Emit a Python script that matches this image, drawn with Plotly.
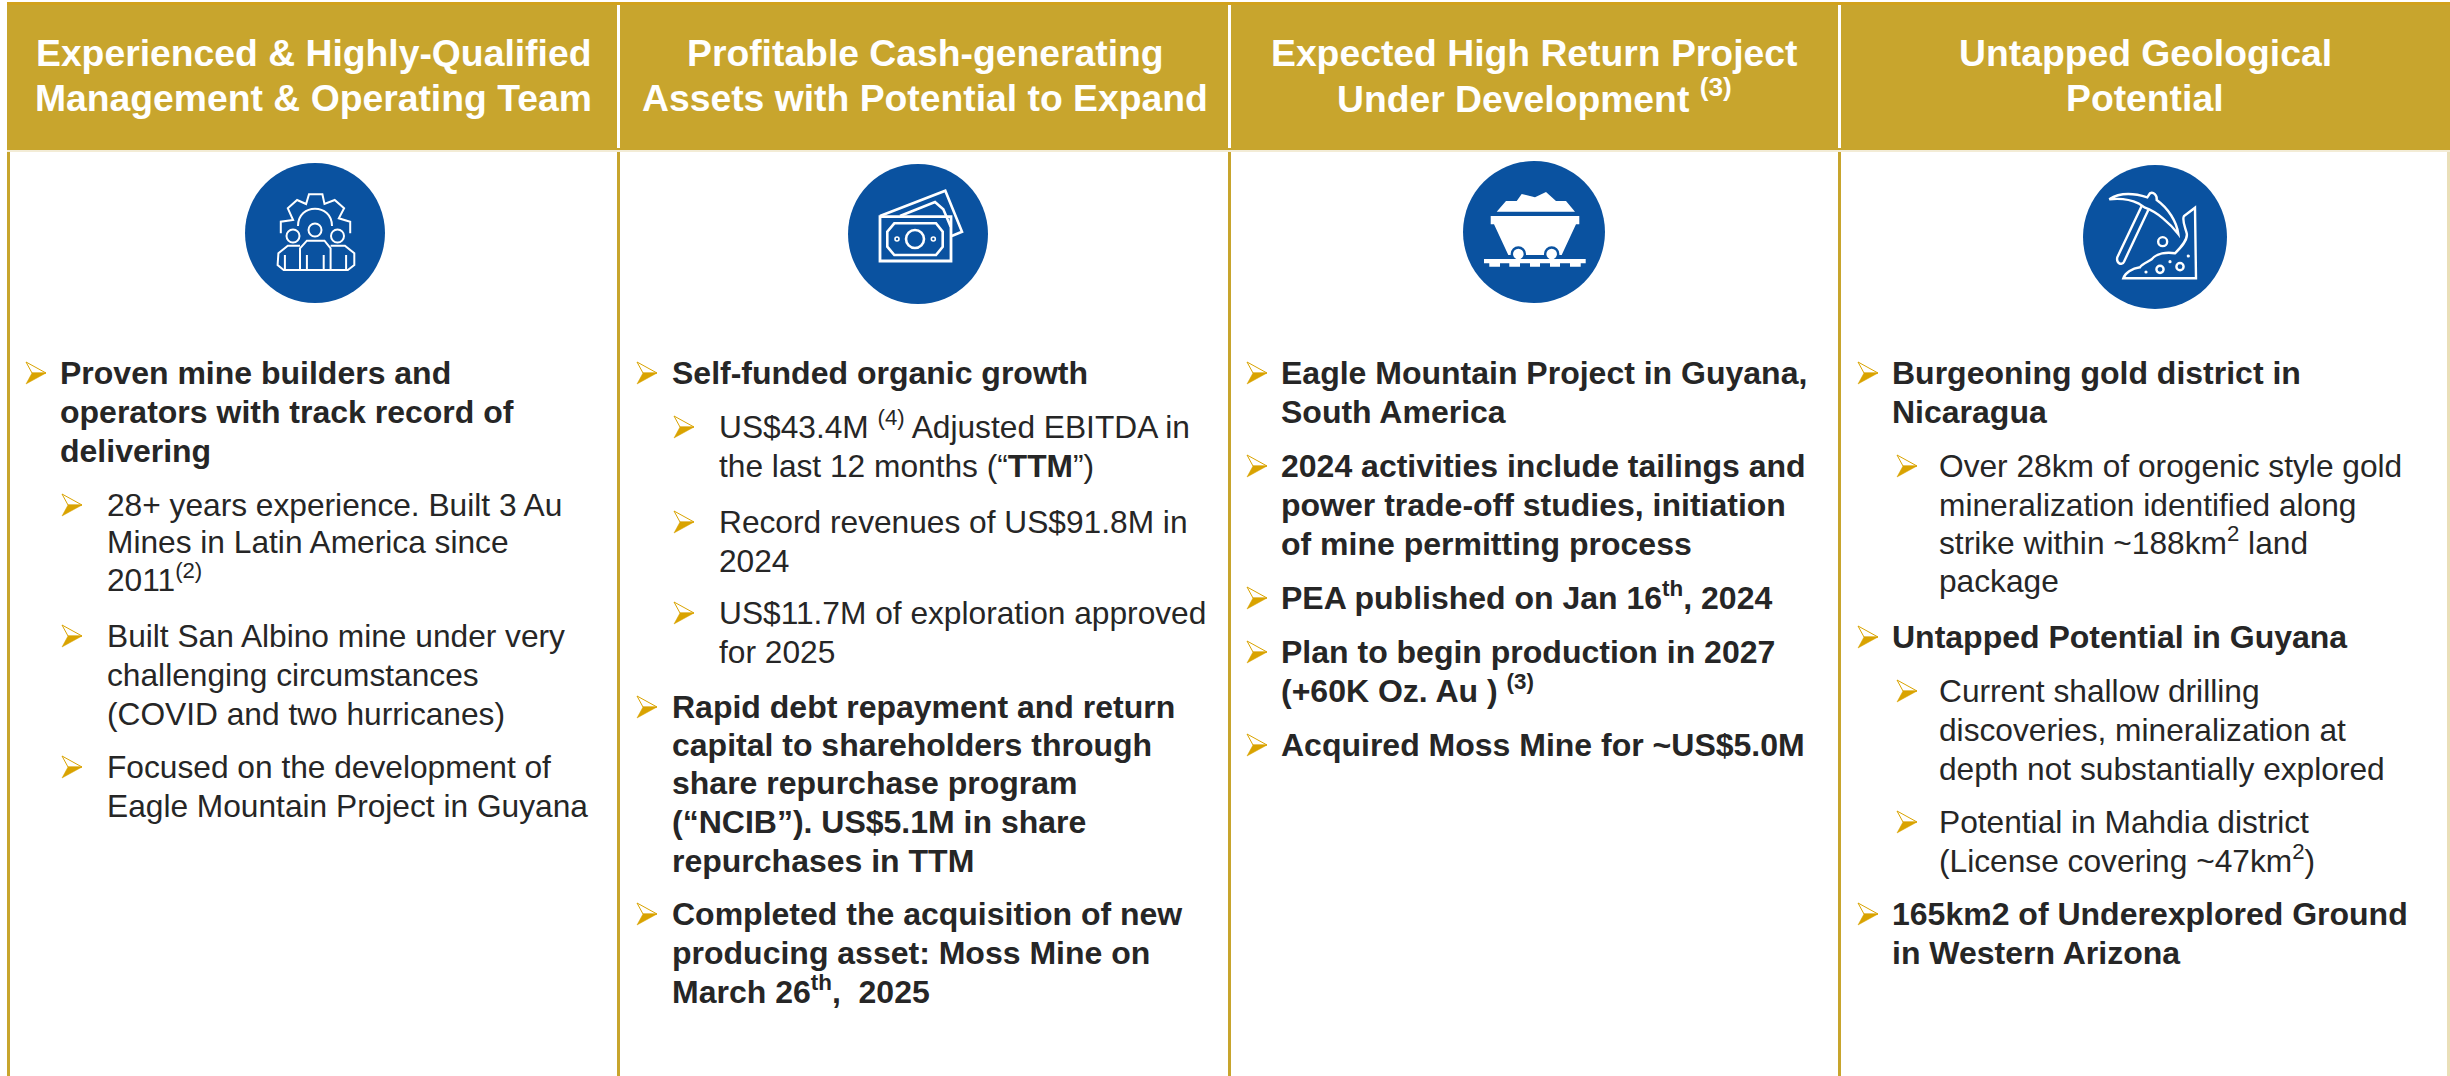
import plotly.graph_objects as go

W, H = 2450, 1076
FONT = "Liberation Sans"
INK = "#262626"
GOLD = "#C8A52D"
BLUE = "#0A52A0"
BULLET = "#D9A300"

headers = [
    ["<b>Experienced &amp; Highly-Qualified</b>", "<b>Management &amp; Operating Team</b>"],
    ["<b>Profitable Cash-generating</b>", "<b>Assets with Potential to Expand</b>"],
    ["<b>Expected High Return Project</b>", "<b>Under Development <sup>(3)</sup></b>"],
    ["<b>Untapped Geological</b>", "<b>Potential</b>"],
]

# text of each column, one entry per rendered line
col1 = ["<b>Proven mine builders and</b>", "<b>operators with track record of</b>", "<b>delivering</b>",
        "28+ years experience. Built 3 Au", "Mines in Latin America since", "2011<sup>(2)</sup>",
        "Built San Albino mine under very", "challenging circumstances", "(COVID and two hurricanes)",
        "Focused on the development of", "Eagle Mountain Project in Guyana"]
col2 = ["<b>Self-funded organic growth</b>",
        "US$43.4M <sup>(4)</sup> Adjusted EBITDA in", "the last 12 months (“<b>TTM</b>”)",
        "Record revenues of US$91.8M in", "2024",
        "US$11.7M of exploration approved", "for 2025",
        "<b>Rapid debt repayment and return</b>", "<b>capital to shareholders through</b>",
        "<b>share repurchase program</b>", "<b>(“NCIB”). US$5.1M in share</b>", "<b>repurchases in TTM</b>",
        "<b>Completed the acquisition of new</b>", "<b>producing asset: Moss Mine on</b>",
        "<b>March 26<sup>th</sup>,  2025</b>"]
col3 = ["<b>Eagle Mountain Project in Guyana,</b>", "<b>South America</b>",
        "<b>2024 activities include tailings and</b>", "<b>power trade-off studies, initiation</b>",
        "<b>of mine permitting process</b>",
        "<b>PEA published on Jan 16<sup>th</sup>, 2024</b>",
        "<b>Plan to begin production in 2027</b>", "<b>(+60K Oz. Au ) <sup>(3)</sup></b>",
        "<b>Acquired Moss Mine for ~US$5.0M</b>"]
col4 = ["<b>Burgeoning gold district in</b>", "<b>Nicaragua</b>",
        "Over 28km of orogenic style gold", "mineralization identified along",
        "strike within ~188km<sup>2</sup> land", "package",
        "<b>Untapped Potential in Guyana</b>",
        "Current shallow drilling", "discoveries, mineralization at", "depth not substantially explored",
        "Potential in Mahdia district", "(License covering ~47km<sup>2</sup>)",
        "<b>165km2 of Underexplored Ground</b>", "<b>in Western Arizona</b>"]
columns = [col1, col2, col3, col4]

# layout (pixels): line centres, indent level (0 bold / 1 sub) and which lines carry a bullet
y1 = [373, 412, 451, 505, 542, 580, 636, 675, 714, 767, 806]
y2 = [373, 427, 466, 522, 561, 613, 652, 707, 745, 783, 822, 861, 914, 953, 992]
y3 = [373, 412, 466, 505, 544, 598, 652, 691, 745]
y4 = [373, 412, 466, 505, 543, 581, 637, 691, 730, 769, 822, 861, 914, 953]
col_y = [y1, y2, y3, y4]
lvl = [[0,0,0,1,1,1,1,1,1,1,1],
       [0,1,1,1,1,1,1,0,0,0,0,0,0,0,0],
       [0]*9,
       [0,0,1,1,1,1,0,1,1,1,1,1,0,0]]
bul = [[1,0,0,1,0,0,1,0,0,1,0],
       [1,1,0,1,0,1,0,1,0,0,0,0,1,0,0],
       [1,0,1,0,0,1,1,0,1],
       [1,0,1,0,0,0,1,1,0,0,1,0,1,0]]
text_x = [(57.5,104.5),(669.5,716.5),(1278.5,1278.5),(1889.5,1936.5)]
bullet_x = [(26,62),(637,674),(1247,1247),(1858,1897)]
head_x = [313,925,1534,2145]
head_y = [53,98]
vlines = [618.5,1229.5,1839.5]
circles = [(315,233,70),(918,234,70),(1534,232,71),(2155,237,72)]

shapes, ann = [], []

def rect(x0,y0,x1,y1,fill,layer="below"):
    shapes.append(dict(type="rect",x0=x0,y0=y0,x1=x1,y1=y1,fillcolor=fill,line=dict(width=0),layer=layer))
def path(d,fill=None,color="white",width=2.4):
    s=dict(type="path",path=d,layer="above",line=dict(color=color,width=width))
    if fill: s["fillcolor"]=fill
    if width==0: s["line"]=dict(width=0)
    shapes.append(s)
def circ(cx,cy,r,fill=None,color="white",width=2.4):
    s=dict(type="circle",x0=cx-r,x1=cx+r,y0=cy-r,y1=cy+r,layer="above",line=dict(color=color,width=width))
    if fill: s["fillcolor"]=fill
    if width==0: s["line"]=dict(width=0)
    shapes.append(s)
def poly(pts,close=True):
    return "M"+" L".join(f"{x:.1f},{y:.1f}" for x,y in pts)+(" Z" if close else "")

# frame
rect(7,2,W,150,GOLD)
rect(7,2,W,5,"#D2A21C")
rect(7,150,W,152,"#F3ECD6")
rect(7,152,10,H,GOLD)
rect(2447,152,2450,H,"#EADFB8")
for x in vlines:
    rect(x-1.5,152,x+1.5,H,GOLD)
    rect(x-1.5,5,x+1.5,148,"white")

# circles
for cx,cy,r in circles:
    circ(cx,cy,r,fill=BLUE,width=0)

# icon 1: gear and people
def z1(p): return [(a/2.45,b/3) for a,b in p]
gear=[(688,700),(688,665),(718,660),(705,625),(728,600),(750,612),(757,583),(790,583),(795,612),(820,600),(843,625),(830,655),(858,665),(858,700)]
path(poly(z1(gear),False),width=2)
path("M298,226 C298,203 332,203 332,226",width=2)
for cx,cy in [(293,236),(315,230),(337.5,236)]:
    circ(cx,cy,6.5,width=2)
path(poly(z1([(735,810),(735,745),(752,722),(795,722),(810,745),(810,810)])),width=2)
path(poly(z1([(735,737),(705,737),(682,760),(680,795),(695,810),(735,810)]),False),width=2)
path(poly(z1([(810,737),(845,737),(868,760),(868,795),(852,810),(810,810)]),False),width=2)
for a in (698,752,793,848):
    path(poly(z1([(a,765),(a,810)]),False),width=2)

# icon 2: banknotes
def z2(p): return [(800+a/3,130+b/3) for a,b in p]
path(poly(z2([(240,258),(436,182),(486,305),(455,318)]),False),width=2.6)
path(poly(z2([(300,258),(405,216),(430,238),(452,290)]),False),width=2.6)
path(poly(z2([(240,260),(453,260),(453,393),(240,393)])),width=2.8)
path(poly(z2([(283,280),(408,280),(428,305),(428,350),(408,375),(283,375),(262,350),(262,305)])),width=2.6)
circ(800+345/3,130+327/3,9,width=2.6)
circ(800+291/3,130+327/3,2,width=1.6)
circ(800+400/3,130+327/3,2,width=1.6)

# icon 3: mine cart
def z3(p): return [(1420+a/3,140+b/3) for a,b in p]
path(poly(z3([(230,215),(258,183),(290,183),(305,162),(345,172),(378,156),(408,183),(438,183),(465,215)])),fill="white",width=0)
path(poly(z3([(212,228),(478,228),(478,253),(468,253),(425,345),(265,345),(222,253),(212,253)])),fill="white",width=0)
for a in (295,395):
    circ(1420+a/3,140+342/3,6.5,fill="white",color=BLUE,width=2.4)
path(poly(z3([(192,357),(497,357),(497,370),(482,370),(482,380),(450,380),(450,370),(420,370),(420,380),(390,380),(390,370),
              (360,370),(360,380),(330,380),(330,370),(300,370),(300,380),(268,380),(268,370),(240,370),(240,380),(208,380),(208,370),(192,370)])),fill="white",width=0)

# icon 4: pickaxe and rock
def P(s):
    out=[];
    for t in s.split():
        if "," in t:
            a,b=t.split(","); out.append(f"{2040+float(a)/3:.1f},{140+float(b)/3:.1f}")
        else: out.append(t)
    return " ".join(out)
path(P("M 208,178 C 250,150 300,165 322,172 L 330,160 C 340,155 352,165 350,180 C 385,205 410,245 415,282 C 390,250 350,215 315,203 L 295,190 C 270,178 235,175 208,178 Z"))
path(P("M 305,198 L 232,352 C 228,370 245,378 252,365 L 325,210"))
path(P("M 250,415 C 255,400 275,385 300,382 C 305,372 325,365 335,358 C 350,340 380,335 405,340 C 420,325 445,300 440,280 C 435,260 425,240 432,228 L 465,203 L 468,415 Z"))
circ(2040+368/3,140+305/3,4.5)
circ(2040+360/3,140+388/3,3.6)
circ(2040+420/3,140+380/3,3.6)
for a,b in [(318,396),(390,365),(445,348)]:
    circ(2040+a/3,140+b/3,0.8,width=1.6)

# text
for c,cx in enumerate(head_x):
    for t,y in zip(headers[c],head_y):
        ny = y-2.5 if "<sup>" in t else y
        ann.append(dict(x=cx,y=ny,text=t,xanchor="center",yanchor="middle",showarrow=False,
                        font=dict(family=FONT,size=37.3,color="white")))

for c,lines in enumerate(columns):
    for i,t in enumerate(lines):
        y=col_y[c][i]; l=lvl[c][i]
        ny = y-2 if "<sup>" in t else y
        ann.append(dict(x=text_x[c][l],y=ny,text=t,xanchor="left",yanchor="middle",showarrow=False,
                        font=dict(family=FONT,size=32 if "<b>" in t[:3] else 31.7,color=INK)))
        if bul[c][i]:
            bx=bullet_x[c][l]
            path(poly([(bx,y-11),(bx+20,y),(bx+6,y)]),fill="white",color=BULLET,width=1)
            path(poly([(bx+6,y),(bx+20,y),(bx,y+11)]),fill=BULLET,color=BULLET,width=0.5)

fig=go.Figure()
fig.update_layout(width=W,height=H,margin=dict(l=0,r=0,t=0,b=0),paper_bgcolor="white",plot_bgcolor="white",
    xaxis=dict(range=[0,W],visible=False,fixedrange=True),
    yaxis=dict(range=[H,0],visible=False,fixedrange=True),
    shapes=shapes,annotations=ann,showlegend=False)
fig.write_html("out.html",config=dict(displayModeBar=False),
    post_script="document.body.style.margin='0';document.body.style.overflow='hidden';")
